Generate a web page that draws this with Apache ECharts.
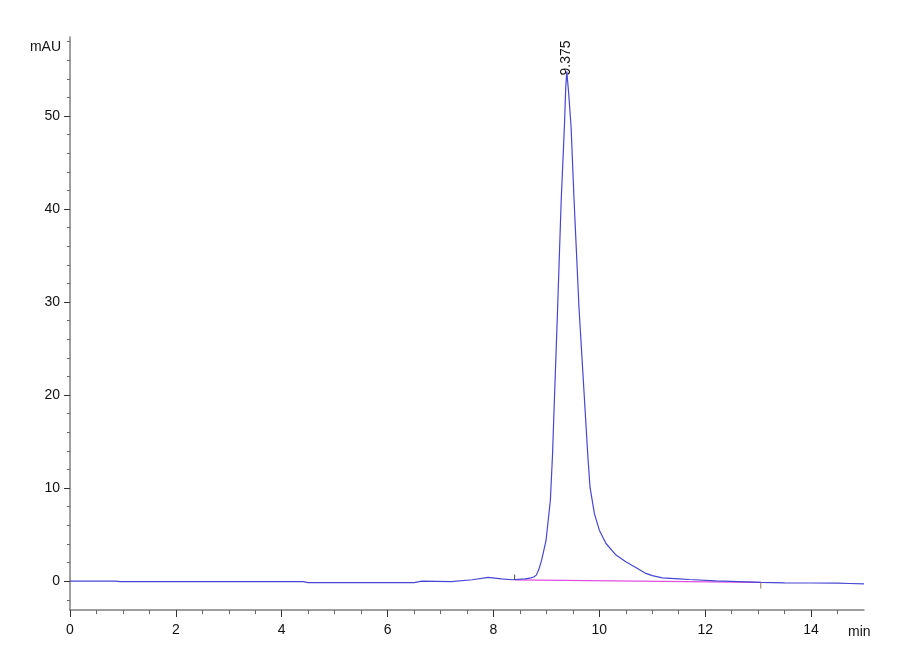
<!DOCTYPE html>
<html>
<head>
    <meta charset="utf-8">
    <title>Chromatogram</title>
    <script src="https://cdn.jsdelivr.net/npm/echarts@6/dist/echarts.min.js"></script>
    <style>
        html, body { margin: 0; padding: 0; background: #fff; }
        #main { width: 900px; height: 660px; }
    </style>
</head>
<body>
<div id="main"></div>
<script type="text/javascript">
    // retention time (min) and signal (mAU)
    var timeMin = [0, 0.85, 0.95, 4.4, 4.5, 6.5, 6.65, 7.2, 7.6, 7.9, 8.15, 8.35, 8.6, 8.71, 8.76, 8.81, 8.86, 8.91, 8.994, 9.075, 9.115, 9.151, 9.21, 9.28, 9.34, 9.365, 9.385,
        9.42, 9.466, 9.52, 9.615, 9.73, 9.78, 9.824, 9.906, 10.0, 10.126, 10.315, 10.5, 10.72, 10.88, 11.0, 11.19, 11.5, 11.7, 12.2, 13.05, 13.5, 14.0, 14.5, 14.72, 15];
    var signal = [0, 0, -0.05, -0.05, -0.15, -0.15, 0, -0.05, 0.15, 0.4, 0.25, 0.15, 0.25, 0.35, 0.45, 0.65, 1.3, 2.26, 4.4, 8.7, 13.5, 19.5, 29.0, 41.0, 48.85, 53.0, 54.8,
        52.5, 48.85, 41.3, 29.5, 18.5, 13.7, 10.1, 7.28, 5.48, 4.05, 2.8, 2.08, 1.37, 0.83, 0.6, 0.36, 0.25, 0.18, 0.03, -0.14, -0.18, -0.2, -0.22, -0.25, -0.3];

    // integration baseline and its start / end markers
    var baseTime = [8.4, 13.05];
    var baseSignal = [0.14, -0.14];
    var startMark = [[8.4, 0.14], [8.4, 0.7]];
    var endMark = [[13.05, -0.14], [13.05, -0.8]];

    var peakTime = 9.375;
    var peakHeight = 54.8;
    var peakLabel = '9.375';

    // axis ticks
    var yMajor = [0, 10, 20, 30, 40, 50];
    var yMinor = [-2, 2, 4, 6, 8, 12, 14, 16, 18, 22, 24, 26, 28, 32, 34, 36, 38, 42, 44, 46, 48, 52, 54, 56, 58];
    var xMajor = [0, 2, 4, 6, 8, 10, 12, 14];
    var xMinor = [0.5, 1, 1.5, 2.5, 3, 3.5, 4.5, 5, 5.5, 6.5, 7, 7.5, 8.5, 9, 9.5, 10.5, 11, 11.5, 12.5, 13, 13.5, 14.5];

    var font = "'Liberation Sans Narrow', 'Liberation Sans', Arial, sans-serif";

    var trace = [];
    for (var i = 0; i < timeMin.length; i++) {
        trace.push([timeMin[i], signal[i]]);
    }
    var baseline = [];
    for (var j = 0; j < baseTime.length; j++) {
        baseline.push([baseTime[j], baseSignal[j]]);
    }

    var myChart = echarts.init(document.getElementById('main'));

    var xRange = {type: 'value', min: 0, max: 15, position: 'bottom'};
    var yRange = {type: 'value', min: -3.1, max: 58.5, position: 'left'};

    option = {
        animation: false,
        backgroundColor: '#fff',
        grid: {left: 70, right: 36, top: 37, bottom: 50},
        xAxis: [
            Object.assign({}, xRange, {
                axisLine: {onZero: false, lineStyle: {color: '#808080', width: 1.5}},
                axisTick: {customValues: xMajor, length: 7, lineStyle: {color: '#333', width: 1}},
                axisLabel: {customValues: xMajor, margin: 13, color: '#111', fontSize: 14, fontFamily: font},
                splitLine: {show: false}
            }),
            Object.assign({}, xRange, {
                axisLine: {show: false, onZero: false},
                axisTick: {customValues: xMinor, length: 4, lineStyle: {color: '#666', width: 1}},
                axisLabel: {show: false},
                splitLine: {show: false}
            })
        ],
        yAxis: [
            Object.assign({}, yRange, {
                axisLine: {show: true, onZero: false, lineStyle: {color: '#808080', width: 1.5}},
                axisTick: {show: true, customValues: yMajor, length: 6, lineStyle: {color: '#333', width: 1}},
                axisLabel: {customValues: yMajor, margin: 10, color: '#111', fontSize: 14, fontFamily: font},
                splitLine: {show: false}
            }),
            Object.assign({}, yRange, {
                axisLine: {show: false, onZero: false},
                axisTick: {show: true, customValues: yMinor, length: 3, lineStyle: {color: '#666', width: 1}},
                axisLabel: {show: false},
                splitLine: {show: false}
            })
        ],
        series: [
            {
                type: 'line',
                data: baseline,
                symbol: 'none',
                lineStyle: {color: '#e050e0', width: 1.2},
                z: 2
            },
            {
                type: 'line',
                data: trace,
                symbol: 'none',
                lineStyle: {color: '#4646d2', width: 1.2},
                z: 3,
                markPoint: {
                    symbol: 'circle',
                    symbolSize: 0,
                    data: [{coord: [peakTime, peakHeight], value: peakLabel}],
                    label: {
                        show: true,
                        formatter: '{c}',
                        position: 'inside',
                        rotate: 90,
                        align: 'left',
                        verticalAlign: 'middle',
                        offset: [-4, 0],
                        color: '#111',
                        fontSize: 14,
                        fontFamily: 'Liberation Sans, Arial, sans-serif'
                    }
                }
            },
            {
                type: 'line',
                data: startMark,
                symbol: 'none',
                lineStyle: {color: '#444', width: 1},
                z: 4
            },
            {
                type: 'line',
                data: endMark,
                symbol: 'none',
                lineStyle: {color: '#9a7a5a', width: 1},
                z: 4
            }
        ],
        graphic: [
            {
                type: 'text', x: 61, y: 47,
                style: {text: 'mAU', fill: '#111', font: '14px ' + font, textAlign: 'right', textVerticalAlign: 'middle'}
            },
            {
                type: 'text', x: 848, y: 632,
                style: {text: 'min', fill: '#111', font: '14px ' + font, textAlign: 'left', textVerticalAlign: 'middle'}
            }
        ]
    };
    myChart.setOption(option);
</script>
</body>
</html>
